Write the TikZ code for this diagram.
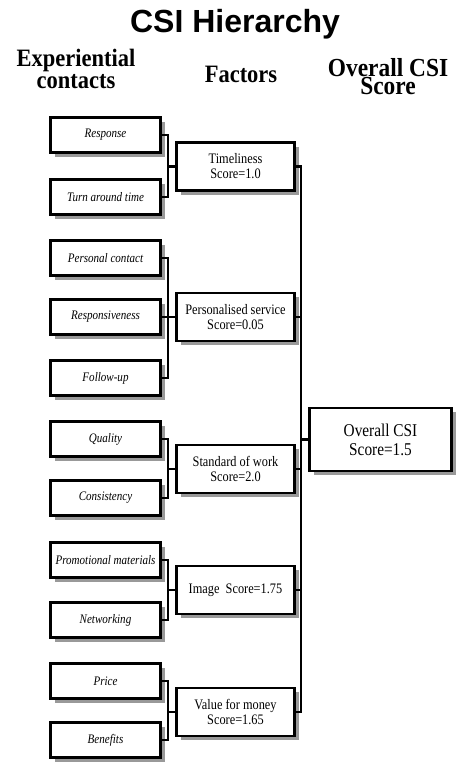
\documentclass[tikz,border=0pt]{standalone}
\usepackage{fontspec}
\setmainfont{Liberation Serif}
\newfontfamily\titlefont{Liberation Sans}
\newfontfamily\condfont[FakeStretch=0.85]{Liberation Serif}
\newfontfamily\headfont[FakeStretch=0.9]{Liberation Serif}
\usetikzlibrary{shadows}
\tikzset{
  shad/.style={drop shadow={shadow xshift=4pt,shadow yshift=-4pt,opacity=1,fill=black!40}},
  leaf/.style={draw, line width=2.2pt, fill=white, minimum width=110pt, minimum height=35pt, inner sep=0pt, shad,
    font=\condfont\itshape\fontsize{13}{15}\selectfont},
  factor/.style={draw, line width=2.4pt, fill=white, minimum width=118pt, minimum height=48pt, inner sep=0pt, shad, align=center,
    font=\condfont\fontsize{14.5}{15}\selectfont},
  overall/.style={draw, line width=2.4pt, fill=white, minimum width=142pt, minimum height=63pt, inner sep=0pt, shad, align=center,
    font=\condfont\fontsize{18}{19}\selectfont},
  conn/.style={draw, line width=2.2pt, line cap=rect},
  head/.style={font=\headfont\bfseries\fontsize{25}{22}\selectfont, align=center, inner sep=0pt}
}
\begin{document}
\begin{tikzpicture}[x=1pt,y=-1pt]
\useasboundingbox[fill=white] (0,0) rectangle (464,764);
% title and headers
\node[font=\titlefont\bfseries\fontsize{32}{38}\selectfont, anchor=base, inner sep=0pt] (title) at (235,32) {CSI Hierarchy};
\node[head] (h1) at (76,68.5) {Experiential\\contacts};
\node[head, anchor=base] (h2) at (241,82) {Factors};
\node[head, font=\headfont\bfseries\fontsize{26}{18}\selectfont] (h3) at (388,77) {Overall CSI\\Score};
% coordinates for brackets
\coordinate (bx) at (168,0);
\coordinate (rx) at (301,0);
% leaves
\node[leaf] (r1) at (105.5,135) {Response};
\node[leaf] (r2) at (105.5,197) {Turn around time};
\node[leaf] (p1) at (105.5,258) {Personal contact};
\node[leaf] (p2) at (105.5,317) {Responsiveness};
\node[leaf] (p3) at (105.5,378) {Follow-up};
\node[leaf] (q1) at (105.5,439) {Quality};
\node[leaf] (q2) at (105.5,498) {Consistency};
\node[leaf] (m1) at (105.5,560) {Promotional materials};
\node[leaf] (m2) at (105.5,620) {Networking};
\node[leaf] (v1) at (105.5,681) {Price};
\node[leaf] (v2) at (105.5,740) {Benefits};
% factors
\node[factor] (f1) at (235.5,166.5) {Timeliness\\Score=1.0};
\node[factor] (f2) at (235.5,317) {Personalised service\\Score=0.05};
\node[factor] (f3) at (235.5,469) {Standard of work\\Score=2.0};
\node[factor] (f4) at (235.5,590) {Image\ \ Score=1.75};
\node[factor] (f5) at (235.5,712) {Value for money\\Score=1.65};
% overall
\node[overall] (o) at (380.5,439.5) {Overall CSI\\Score=1.5};
% left brackets
\draw[conn] (r1.east) -- (r1.east -| bx) -- (r2.east -| bx) -- (r2.east);
\draw[conn] (f1.west) -- (f1.west -| bx);
\draw[conn] (p1.east) -- (p1.east -| bx) -- (p3.east -| bx) -- (p3.east);
\draw[conn] (p2.east) -- (p2.east -| bx);
\draw[conn] (f2.west) -- (f2.west -| bx);
\draw[conn] (q1.east) -- (q1.east -| bx) -- (q2.east -| bx) -- (q2.east);
\draw[conn] (f3.west) -- (f3.west -| bx);
\draw[conn] (m1.east) -- (m1.east -| bx) -- (m2.east -| bx) -- (m2.east);
\draw[conn] (f4.west) -- (f4.west -| bx);
\draw[conn] (v1.east) -- (v1.east -| bx) -- (v2.east -| bx) -- (v2.east);
\draw[conn] (f5.west) -- (f5.west -| bx);
% right bracket
\draw[conn] (f1.east) -- (f1.east -| rx) -- (f5.east -| rx) -- (f5.east);
\draw[conn] (f2.east) -- (f2.east -| rx);
\draw[conn] (f3.east) -- (f3.east -| rx);
\draw[conn] (f4.east) -- (f4.east -| rx);
\draw[conn, line width=3pt] (o.west) -- (o.west -| rx);
\end{tikzpicture}
\end{document}
